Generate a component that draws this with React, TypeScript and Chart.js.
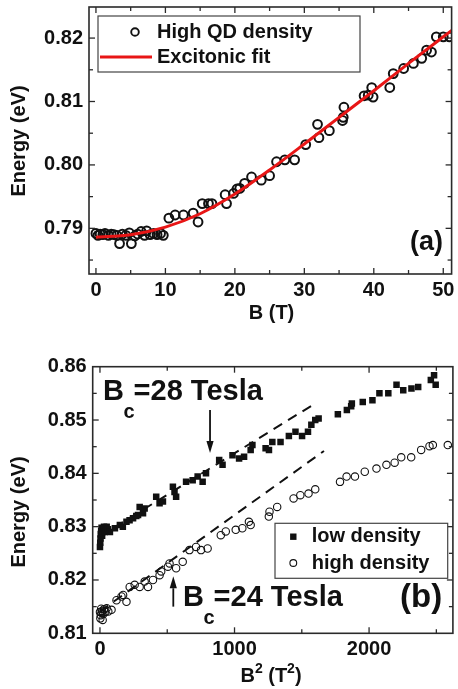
import React, { useEffect, useRef } from 'react';
import { Chart, registerables } from 'chart.js';

Chart.register(...registerables);

const FONT = '"Liberation Sans", Arial, Helvetica, sans-serif';
const INK = '#111';

// ---------------- Panel (a) data ----------------
const fieldA = [0, 0.3, 0.6, 1.0, 1.3, 1.8, 2.2, 2.6, 3.0, 3.4, 3.8, 4.3, 4.8, 5.1, 5.6, 6.0, 6.5, 7.0, 7.3, 7.8, 8.3, 8.8, 9.3, 9.7, 10.5, 11.4, 12.6, 14.0, 14.7, 15.3, 16.2, 16.7, 18.6, 18.8, 19.8, 20.3, 20.7, 21.4, 22.4, 23.8, 25.0, 26.0, 27.2, 28.6, 30.2, 31.9, 32.1, 33.6, 35.5, 35.6, 35.7, 38.6, 39.2, 39.7, 39.9, 42.3, 42.8, 44.3, 45.7, 46.9, 47.6, 48.3, 49.0, 50.0, 50.9];
const energyA = [0.7892, 0.7889, 0.7891, 0.7890, 0.7892, 0.7889, 0.7891, 0.7890, 0.7889, 0.7876, 0.7891, 0.7889, 0.7893, 0.7876, 0.7888, 0.7891, 0.7895, 0.7889, 0.7896, 0.7890, 0.7892, 0.7890, 0.7892, 0.7889, 0.7916, 0.7921, 0.7921, 0.7924, 0.7910, 0.7939, 0.7939, 0.7939, 0.7953, 0.7939, 0.7955, 0.7962, 0.7963, 0.7971, 0.7981, 0.7976, 0.7983, 0.8005, 0.8008, 0.8008, 0.8032, 0.8064, 0.8043, 0.8054, 0.8070, 0.8075, 0.8091, 0.8109, 0.8110, 0.8122, 0.8107, 0.8122, 0.8144, 0.8152, 0.8160, 0.8168, 0.8181, 0.8178, 0.8202, 0.8202, 0.8202];
const fitField = [0, 5, 10, 15, 20, 25, 30, 35, 40, 45, 50, 51.2];
const fitEnergy = [0.7886, 0.7890, 0.7902, 0.7923, 0.7954, 0.7992, 0.8033, 0.8075, 0.8117, 0.8160, 0.8202, 0.8212];

const xTicksA = [0, 10, 20, 30, 40, 50];
const xTickLabelsA = ['0', '10', '20', '30', '40', '50'];
const xMinorA = [5, 15, 25, 35, 45];
const yTicksA = [0.79, 0.80, 0.81, 0.82];
const yTickLabelsA = ['0.79', '0.80', '0.81', '0.82'];
const yMinorA = [0.785, 0.795, 0.805, 0.815];

// ---------------- Panel (b) data ----------------
const b2Low = [0, 2, 4, 6, 9, 12, 16, 20, 25, 30, 36, 42, 50, 60, 74, 111, 148, 170, 197, 220, 246, 270, 283, 295, 320, 332, 418, 443, 468, 542, 554, 566, 640, 689, 726, 763, 788, 886, 911, 985, 1034, 1071, 1120, 1133, 1231, 1256, 1281, 1342, 1404, 1453, 1502, 1546, 1571, 1600, 1625, 1768, 1835, 1867, 1872, 1953, 2025, 2077, 2143, 2204, 2254, 2315, 2365, 2459, 2483, 2495];
const eLow = [0.8262, 0.8270, 0.8278, 0.8286, 0.8292, 0.8298, 0.8283, 0.8290, 0.8296, 0.8300, 0.8290, 0.8296, 0.8300, 0.8295, 0.8290, 0.8297, 0.8303, 0.8300, 0.8309, 0.8312, 0.8316, 0.8320, 0.8322, 0.8337, 0.8325, 0.8334, 0.8356, 0.8344, 0.8347, 0.8375, 0.8365, 0.8356, 0.8384, 0.8387, 0.8394, 0.8384, 0.8400, 0.8425, 0.8416, 0.8434, 0.8428, 0.8431, 0.8444, 0.8453, 0.8447, 0.8444, 0.8459, 0.8459, 0.8470, 0.8478, 0.8470, 0.8478, 0.8491, 0.8500, 0.8503, 0.8511, 0.8519, 0.8526, 0.8531, 0.8534, 0.8537, 0.8550, 0.8550, 0.8566, 0.8556, 0.8559, 0.8562, 0.8575, 0.8584, 0.8566];
const b2High = [0, 3, 6, 9, 12, 16, 20, 25, 30, 40, 50, 62, 86, 123, 160, 172, 197, 221, 258, 295, 332, 357, 394, 443, 455, 505, 517, 566, 615, 665, 714, 751, 800, 898, 935, 1009, 1058, 1107, 1120, 1255, 1260, 1317, 1439, 1489, 1550, 1600, 1784, 1833, 1895, 1968, 2055, 2129, 2190, 2239, 2313, 2387, 2449, 2474, 2585];
const eHigh = [0.8140, 0.8128, 0.8134, 0.8146, 0.8138, 0.8142, 0.8125, 0.8136, 0.8145, 0.8140, 0.8147, 0.8141, 0.8144, 0.8162, 0.8169, 0.8172, 0.8159, 0.8187, 0.8191, 0.8187, 0.8197, 0.8187, 0.8200, 0.8209, 0.8216, 0.8225, 0.8231, 0.8222, 0.8234, 0.8256, 0.8262, 0.8256, 0.8259, 0.8284, 0.8291, 0.8294, 0.8297, 0.8309, 0.8303, 0.8319, 0.8328, 0.8337, 0.8353, 0.8359, 0.8362, 0.8370, 0.8384, 0.8394, 0.8394, 0.8403, 0.8409, 0.8416, 0.8420, 0.8430, 0.8430, 0.8444, 0.8451, 0.8453, 0.8453];
const dashUpperX = [0, 1580];
const dashUpperE = [0.8282, 0.8528];
const dashLowerX = [0, 1665];
const dashLowerE = [0.8141, 0.8442];
const arrowX = [818, 545];
const arrowFromE = [0.8519, 0.8150];
const arrowToE = [0.8438, 0.8207];

const xTicksB = [0, 1000, 2000];
const xTickLabelsB = ['0', '1000', '2000'];
const xMinorB = [500, 1500, 2500];
const yTicksB = [0.81, 0.82, 0.83, 0.84, 0.85, 0.86];
const yTickLabelsB = ['0.81', '0.82', '0.83', '0.84', '0.85', '0.86'];
const yMinorB = [0.815, 0.825, 0.835, 0.845, 0.855];

const pts = (xs: number[], ys: number[]) => xs.map((x, i) => ({ x, y: ys[i] }));

function txt(ctx: CanvasRenderingContext2D, s: string, x: number, y: number, size: number, align: CanvasTextAlign = 'left') {
  ctx.font = `bold ${size}px ${FONT}`;
  ctx.fillStyle = INK;
  ctx.textAlign = align;
  ctx.textBaseline = 'middle';
  ctx.fillText(s, x, y);
  return ctx.measureText(s).width;
}

function measure(ctx: CanvasRenderingContext2D, s: string, size: number) {
  ctx.font = `bold ${size}px ${FONT}`;
  return ctx.measureText(s).width;
}

function drawFrame(chart: any, xMajor: number[], xMinor: number[], yMajor: number[], yMinor: number[]) {
  const { ctx, chartArea, scales } = chart;
  const { left, right, top, bottom } = chartArea;
  const xs = scales.x;
  const ys = scales.y;
  ctx.save();
  ctx.strokeStyle = '#2a2a2a';
  ctx.lineWidth = 1.6;
  ctx.strokeRect(left, top, right - left, bottom - top);
  ctx.lineWidth = 1.3;
  const seg = (x1: number, y1: number, x2: number, y2: number) => {
    ctx.beginPath();
    ctx.moveTo(x1, y1);
    ctx.lineTo(x2, y2);
    ctx.stroke();
  };
  const xt = (vals: number[], len: number) => vals.forEach((v) => {
    const p = xs.getPixelForValue(v);
    if (p <= left + 1 || p >= right - 1) return;
    seg(p, bottom, p, bottom - len);
    seg(p, top, p, top + len);
  });
  const yt = (vals: number[], len: number) => vals.forEach((v) => {
    const p = ys.getPixelForValue(v);
    if (p <= top + 1 || p >= bottom - 1) return;
    seg(left, p, left + len, p);
    seg(right, p, right - len, p);
  });
  xt(xMajor, 6);
  xt(xMinor, 4);
  yt(yMajor, 6);
  yt(yMinor, 4);
  ctx.restore();
}

function yTitle(ctx: CanvasRenderingContext2D, x: number, y: number) {
  ctx.save();
  ctx.translate(x, y);
  ctx.rotate(-Math.PI / 2);
  txt(ctx, 'Energy (eV)', 0, 0, 20, 'center');
  ctx.restore();
}

function drawPieces(ctx: CanvasRenderingContext2D, pieces: [string, number, number][], cx: number, cy: number) {
  let total = 0;
  pieces.forEach(([s, size]) => { total += measure(ctx, s, size); });
  let x = cx - total / 2;
  pieces.forEach(([s, size, dy]) => { x += txt(ctx, s, x, cy + dy, size); });
}

function drawArrow(ctx: CanvasRenderingContext2D, x: number, y0: number, y1: number) {
  const dir = Math.sign(y1 - y0);
  const headLen = 12;
  const headW = 3.6;
  ctx.save();
  ctx.strokeStyle = INK;
  ctx.fillStyle = INK;
  ctx.lineWidth = 1.8;
  ctx.beginPath();
  ctx.moveTo(x, y0);
  ctx.lineTo(x, y1 - dir * headLen);
  ctx.stroke();
  ctx.beginPath();
  ctx.moveTo(x, y1);
  ctx.lineTo(x - headW, y1 - dir * headLen);
  ctx.lineTo(x + headW, y1 - dir * headLen);
  ctx.closePath();
  ctx.fill();
  ctx.restore();
}

function bcLabel(ctx: CanvasRenderingContext2D, rest: string, x: number, y: number) {
  let cx = x;
  cx += txt(ctx, 'B', cx, y, 29);
  cx -= 0.5;
  cx += txt(ctx, 'c', cx, y + 20, 20);
  cx -= 1;
  txt(ctx, rest, cx, y, 29);
}

const tickFont = { family: FONT, size: 20, weight: 'bold' as const };

function makeScales(opts: {
  xMin: number; xMax: number; yMin: number; yMax: number;
  xTicks: number[]; xLabels: string[]; yTicks: number[]; yLabels: string[];
  xHeight: number; yWidth: number; xPad: number;
}) {
  return {
    x: {
      type: 'linear' as const,
      min: opts.xMin,
      max: opts.xMax,
      grid: { display: false, drawTicks: false },
      border: { display: false },
      ticks: {
        font: tickFont,
        color: INK,
        padding: opts.xPad,
        maxRotation: 0,
        autoSkip: false,
        callback: (_v: any, i: number) => opts.xLabels[i],
      },
      afterBuildTicks: (s: any) => { s.ticks = opts.xTicks.map((v) => ({ value: v })); },
      afterFit: (s: any) => { s.height = opts.xHeight; s.paddingLeft = 0; s.paddingRight = 0; },
    },
    y: {
      type: 'linear' as const,
      min: opts.yMin,
      max: opts.yMax,
      grid: { display: false, drawTicks: false },
      border: { display: false },
      ticks: {
        font: tickFont,
        color: INK,
        padding: 6,
        autoSkip: false,
        callback: (_v: any, i: number) => opts.yLabels[i],
      },
      afterBuildTicks: (s: any) => { s.ticks = opts.yTicks.map((v) => ({ value: v })); },
      afterFit: (s: any) => { s.width = opts.yWidth; s.paddingTop = 0; s.paddingBottom = 0; },
    },
  };
}

export default function App() {
  const refA = useRef<HTMLCanvasElement>(null);
  const refB = useRef<HTMLCanvasElement>(null);

  useEffect(() => {
    Chart.defaults.font.family = FONT;
    const chartA = new Chart(refA.current as HTMLCanvasElement, {
      type: 'scatter',
      data: {
        datasets: [
          {
            label: 'Excitonic fit',
            data: pts(fitField, fitEnergy),
            showLine: true,
            borderColor: 'rgb(232,22,22)',
            borderWidth: 3,
            pointRadius: 0,
            cubicInterpolationMode: 'monotone',
            order: 0,
          } as any,
          {
            label: 'High QD density',
            data: pts(fieldA, energyA),
            pointStyle: 'circle',
            pointRadius: 4.4,
            borderWidth: 2,
            borderColor: INK,
            backgroundColor: 'rgba(0,0,0,0)',
            order: 1,
          },
        ],
      },
      options: {
        animation: false,
        responsive: false,
        events: [],
        layout: { padding: { left: 0, top: 7, right: 3, bottom: 0 } },
        plugins: { legend: { display: false }, tooltip: { enabled: false } },
        scales: makeScales({
          xMin: -1.0, xMax: 51.2, yMin: 0.7828, yMax: 0.8249,
          xTicks: xTicksA, xLabels: xTickLabelsA, yTicks: yTicksA, yLabels: yTickLabelsA,
          xHeight: 56, yWidth: 89, xPad: 4,
        }) as any,
      },
      plugins: [
        {
          id: 'decorA',
          afterDatasetsDraw(chart: any) {
            drawFrame(chart, xTicksA, xMinorA, yTicksA, yMinorA);
          },
          afterDraw(chart: any) {
            const ctx = chart.ctx as CanvasRenderingContext2D;
            ctx.save();
            ctx.fillStyle = '#fff';
            ctx.fillRect(98, 16, 262, 56);
            ctx.strokeStyle = '#444';
            ctx.lineWidth = 1.2;
            ctx.strokeRect(98, 16, 262, 56);
            ctx.strokeStyle = INK;
            ctx.lineWidth = 1.9;
            ctx.beginPath();
            ctx.arc(135, 32, 3.8, 0, Math.PI * 2);
            ctx.stroke();
            txt(ctx, 'High QD density', 157, 32, 20);
            ctx.strokeStyle = 'rgb(232,22,22)';
            ctx.lineWidth = 3;
            ctx.beginPath();
            ctx.moveTo(100, 57);
            ctx.lineTo(152, 57);
            ctx.stroke();
            txt(ctx, 'Excitonic fit', 157, 57, 20);
            txt(ctx, '(a)', 410, 243, 27);
            txt(ctx, 'B (T)', 271.5, 313, 20, 'center');
            yTitle(ctx, 19.5, 141);
            ctx.restore();
          },
        },
      ],
    });

    const chartB = new Chart(refB.current as HTMLCanvasElement, {
      type: 'scatter',
      data: {
        datasets: [
          {
            label: 'upper guide',
            data: pts(dashUpperX, dashUpperE),
            showLine: true,
            borderColor: INK,
            borderWidth: 2,
            borderDash: [10, 7],
            pointRadius: 0,
          } as any,
          {
            label: 'lower guide',
            data: pts(dashLowerX, dashLowerE),
            showLine: true,
            borderColor: INK,
            borderWidth: 2,
            borderDash: [10, 7],
            pointRadius: 0,
          } as any,
          {
            label: 'low density',
            data: pts(b2Low, eLow),
            pointStyle: 'rect',
            pointRadius: 4.6,
            borderWidth: 0,
            backgroundColor: INK,
            borderColor: INK,
          },
          {
            label: 'high density',
            data: pts(b2High, eHigh),
            pointStyle: 'circle',
            pointRadius: 3.7,
            borderWidth: 1.1,
            borderColor: INK,
            backgroundColor: 'rgba(0,0,0,0)',
          },
        ],
      },
      options: {
        animation: false,
        responsive: false,
        events: [],
        layout: { padding: { left: 0, top: 36.7, right: 3, bottom: 0 } },
        plugins: { legend: { display: false }, tooltip: { enabled: false } },
        scales: makeScales({
          xMin: -54, xMax: 2623, yMin: 0.81, yMax: 0.86,
          xTicks: xTicksB, xLabels: xTickLabelsB, yTicks: yTicksB, yLabels: yTickLabelsB,
          xHeight: 55.7, yWidth: 92.7, xPad: 4.5,
        }) as any,
      },
      plugins: [
        {
          id: 'decorB',
          afterDatasetsDraw(chart: any) {
            drawFrame(chart, xTicksB, xMinorB, yTicksB, yMinorB);
          },
          afterDraw(chart: any) {
            const ctx = chart.ctx as CanvasRenderingContext2D;
            const xs = chart.scales.x;
            const ys = chart.scales.y;
            ctx.save();
            arrowX.forEach((v, i) => {
              drawArrow(ctx, xs.getPixelForValue(v), ys.getPixelForValue(arrowFromE[i]), ys.getPixelForValue(arrowToE[i]));
            });
            bcLabel(ctx, '=28 Tesla', 103, 62);
            bcLabel(ctx, '=24 Tesla', 183, 268);
            txt(ctx, '(b)', 400, 268, 33);
            ctx.fillStyle = '#fff';
            ctx.fillRect(275, 193.3, 172.7, 55);
            ctx.strokeStyle = '#444';
            ctx.lineWidth = 1.2;
            ctx.strokeRect(275, 193.3, 172.7, 55);
            ctx.fillStyle = INK;
            ctx.fillRect(293.3 - 3.2, 206.7 - 3.2, 6.4, 6.4);
            ctx.strokeStyle = INK;
            ctx.lineWidth = 1.1;
            ctx.beginPath();
            ctx.arc(293.3, 233, 3.4, 0, Math.PI * 2);
            ctx.stroke();
            txt(ctx, 'low density', 311.7, 206.7, 20);
            txt(ctx, 'high density', 311.7, 233, 20);
            drawPieces(ctx, [['B', 20, 0], ['2', 14, -7], [' (T', 20, 0], ['2', 14, -7], [')', 20, 0]], 271, 346.5);
            yTitle(ctx, 19.5, 182);
            ctx.restore();
          },
        },
      ],
    });

    return () => {
      chartA.destroy();
      chartB.destroy();
    };
  }, []);

  return (
    <div style={{ position: 'absolute', left: 0, top: 0, width: 458, height: 689, background: '#fff' }}>
      <canvas ref={refA} width={458} height={330} style={{ position: 'absolute', left: 0, top: 0, width: 458, height: 330 }} />
      <canvas ref={refB} width={458} height={359} style={{ position: 'absolute', left: 0, top: 330, width: 458, height: 359 }} />
    </div>
  );
}
